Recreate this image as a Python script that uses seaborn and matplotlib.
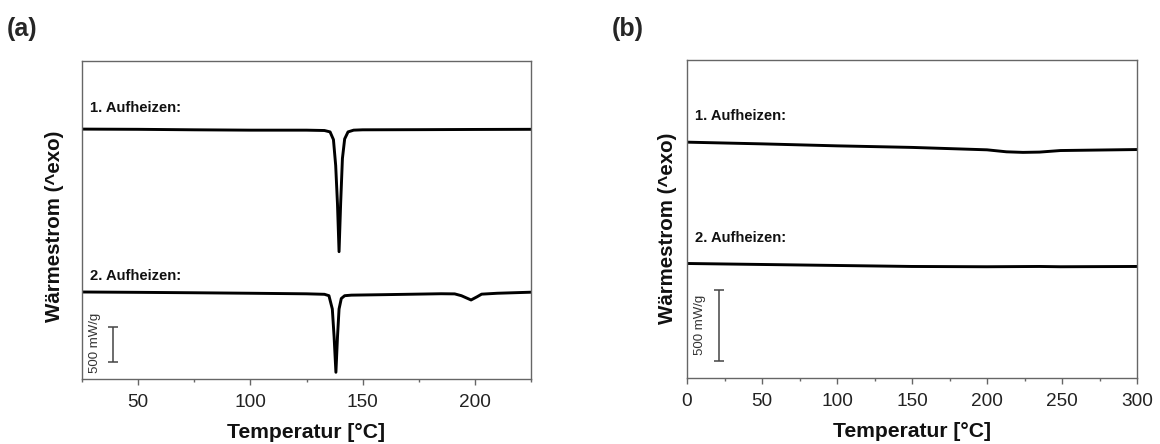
import numpy as np
import pandas as pd
import matplotlib
matplotlib.use("Agg")
import matplotlib.pyplot as plt
import seaborn as sns

# ---------------- data (heat flow in mW/g, curves offset for display) ----------------
# Panel (a)
temp_a1 = [25, 50, 75, 100, 125, 133, 135.5, 137, 138, 138.8, 139.5, 140.2, 141, 142, 143.5, 146, 150, 175, 200, 225]
flow_a1 = [3570, 3567, 3560, 3555, 3555, 3550, 3530, 3420, 3050, 2500, 1819, 2500, 3150, 3430, 3530, 3555, 3560, 3562, 3565, 3567]

temp_a2 = [25, 50, 75, 100, 125, 133, 135, 136.5, 137.3, 138.1, 138.8, 139.5, 140.5, 142, 145, 160, 185, 191, 194, 198.3, 201, 203, 210, 225]
flow_a2 = [1243, 1238, 1232, 1225, 1217, 1210, 1190, 1000, 600, 96, 600, 1000, 1150, 1190, 1198, 1205, 1218, 1216, 1190, 1129, 1175, 1212, 1225, 1240]

# Panel (b)
temp_b1 = [0, 50, 100, 150, 200, 213, 224, 235, 249, 300]
flow_b1 = [1662, 1650, 1636, 1625, 1608, 1594, 1590, 1592, 1603, 1610]

temp_b2 = [0, 50, 100, 150, 200, 235, 249, 300]
flow_b2 = [807, 800, 793, 786, 784, 786, 784, 786]

labels = ["1. Aufheizen:", "2. Aufheizen:"]
scale_bar = 500  # mW/g
xlabel = "Temperatur [°C]"
ylabel = "Wärmestrom (^exo)"
xticks_a = [50, 100, 150, 200]
xticks_b = [0, 50, 100, 150, 200, 250, 300]

# ---------------- style ----------------
sns.set_theme(style="white")
plt.rcParams["font.family"] = ["Liberation Sans", "DejaVu Sans"]

W, H = 1160, 444
fig = plt.figure(figsize=(W / 100, H / 100), dpi=100)

def px_axes(left, top, right, bottom):
    return fig.add_axes([left / W, 1 - bottom / H, (right - left) / W, (bottom - top) / H])

ax_a = px_axes(82, 61, 531, 379)
ax_b = px_axes(687, 60, 1137, 378)

df_a = pd.concat([
    pd.DataFrame({"T": temp_a1, "Q": flow_a1, "run": labels[0]}),
    pd.DataFrame({"T": temp_a2, "Q": flow_a2, "run": labels[1]}),
])
df_b = pd.concat([
    pd.DataFrame({"T": temp_b1, "Q": flow_b1, "run": labels[0]}),
    pd.DataFrame({"T": temp_b2, "Q": flow_b2, "run": labels[1]}),
])

spine_col = "#666666"
for ax, df, xlim, ylim, xticks in [
    (ax_a, df_a, (25, 225), (0, 4543), xticks_a),
    (ax_b, df_b, (0, 300), (0, 2241), xticks_b),
]:
    sns.lineplot(data=df, x="T", y="Q", units="run", estimator=None, color="black",
                 linewidth=2.1, ax=ax, legend=False, sort=True)
    ax.set_xlim(*xlim)
    ax.set_ylim(*ylim)
    ax.set_xticks(xticks)
    ax.set_xticks(np.arange(xlim[0], xlim[1] + 1, 25), minor=True)
    ax.set_yticks([])
    ax.tick_params(axis="x", which="major", direction="out", length=4, width=1,
                   color=spine_col, pad=6.5, labelsize=13.7, labelcolor="#222222", bottom=True)
    ax.tick_params(axis="x", which="minor", direction="out", length=2.5, width=1,
                   color=spine_col, bottom=True)
    for s in ax.spines.values():
        s.set_color(spine_col)
        s.set_linewidth(1.0)
    ax.set_xlabel(xlabel, fontsize=15.2, fontweight="bold", color="#111111")
    ax.set_ylabel(ylabel, fontsize=14.8, fontweight="bold", color="#111111")
    ax.xaxis.set_label_coords(0.5, -0.139)
    ax.xaxis.label.set_va("top")

ax_a.yaxis.set_label_coords(-0.041, 0.48)
ax_b.yaxis.set_label_coords(-0.022, 0.47)

# curve labels
lab_kw = dict(fontsize=10.6, fontweight="bold", va="center", ha="left", color="#111111")
ax_a.text(28.6, 3871, labels[0], **lab_kw)
ax_a.text(28.6, 1471, labels[1], **lab_kw)
ax_b.text(5.5, 1847, labels[0], **lab_kw)
ax_b.text(5.5, 986, labels[1], **lab_kw)

# scale bars
bar_col = "#444444"
for ax, bx, by0, tx, ty in [(ax_a, 39, 247, 30.8, 514), (ax_b, 21, 117, 8.9, 375)]:
    ax.errorbar([bx], [by0 + scale_bar / 2], yerr=[scale_bar / 2], color=bar_col,
                elinewidth=1.1, capsize=3.3, capthick=1.1, fmt="none")
    ax.text(tx, ty, f"{scale_bar} mW/g", rotation=90, fontsize=9.5, color="#333333",
            ha="center", va="center")

# panel letters
fig.text(7 / W, 1 - 29 / H, "(a)", fontsize=18, fontweight="bold", ha="left", va="center")
fig.text(612 / W, 1 - 29 / H, "(b)", fontsize=18, fontweight="bold", ha="left", va="center")

fig.savefig("out.png", dpi=100, facecolor="white")
